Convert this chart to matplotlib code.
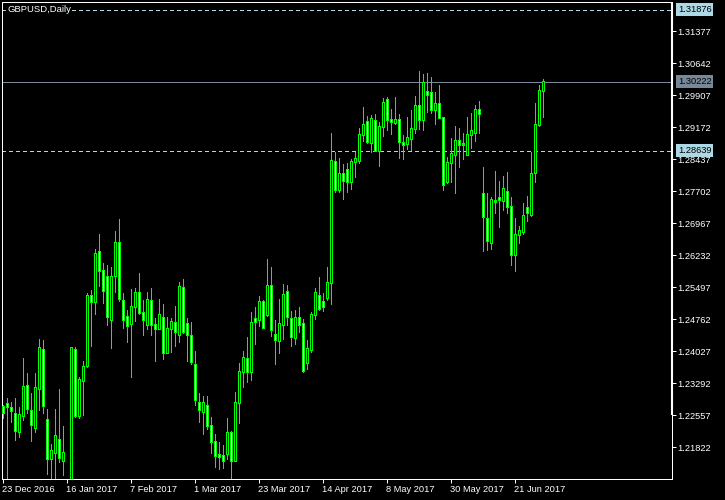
import numpy as np
import matplotlib
matplotlib.use('Agg')
import matplotlib.pyplot as plt

plt.rcParams['font.family'] = ['Liberation Sans', 'DejaVu Sans']

# GBPUSD daily, 23 Dec 2016 .. 30 Jun 2017 (one bar per weekday)
opens = [1.2275, 1.2282, 1.2274, 1.2260, 1.2218, 1.2256, 1.2325, 1.2266, 1.2228, 1.2318,
         1.2407, 1.2247, 1.2157, 1.2171, 1.2201, 1.2153, 1.2040, 1.2060, 1.2407, 1.2255,
         1.2335, 1.2370, 1.2531, 1.2517, 1.2632, 1.2589, 1.2575, 1.2476, 1.2576, 1.2653,
         1.2520, 1.2482, 1.2467, 1.2505, 1.2538, 1.2492, 1.2465, 1.2520, 1.2464, 1.2455,
         1.2481, 1.2400, 1.2456, 1.2468, 1.2442, 1.2550, 1.2467, 1.2439, 1.2373, 1.2286,
         1.2265, 1.2279, 1.2232, 1.2196, 1.2165, 1.2164, 1.2168, 1.2217, 1.2151, 1.2286,
         1.2356, 1.2387, 1.2356, 1.2477, 1.2475, 1.2516, 1.2487, 1.2553, 1.2442, 1.2427,
         1.2465, 1.2540, 1.2479, 1.2434, 1.2481, 1.2467, 1.2377, 1.2406, 1.2488, 1.2532,
         1.2516, 1.2526, 1.2560, 1.2838, 1.2775, 1.2812, 1.2821, 1.2792, 1.2838, 1.2842,
         1.2900, 1.2930, 1.2883, 1.2932, 1.2864, 1.2920, 1.2981, 1.2936, 1.2929, 1.2936,
         1.2883, 1.2880, 1.2892, 1.2915, 1.2968, 1.2934, 1.3000, 1.2998, 1.2958, 1.2972,
         1.2940, 1.2792, 1.2836, 1.2854, 1.2887, 1.2881, 1.2854, 1.2901, 1.2906, 1.2959,
         1.2766, 1.2708, 1.2652, 1.2750, 1.2755, 1.2749, 1.2770, 1.2736, 1.2625, 1.2671,
         1.2677, 1.2734, 1.2716, 1.2813, 1.2923, 1.3001]
highs = [1.2279, 1.2295, 1.2286, 1.2295, 1.2274, 1.2387, 1.2352, 1.2307, 1.2352, 1.2430,
         1.2429, 1.2270, 1.2189, 1.2270, 1.2315, 1.2230, 1.2085, 1.2413, 1.2413, 1.2344,
         1.2380, 1.2536, 1.2543, 1.2637, 1.2672, 1.2605, 1.2601, 1.2596, 1.2679, 1.2707,
         1.2537, 1.2498, 1.2546, 1.2547, 1.2583, 1.2520, 1.2539, 1.2547, 1.2479, 1.2523,
         1.2511, 1.2481, 1.2479, 1.2507, 1.2561, 1.2569, 1.2479, 1.2470, 1.2403, 1.2306,
         1.2300, 1.2300, 1.2251, 1.2213, 1.2194, 1.2187, 1.2249, 1.2219, 1.2309, 1.2376,
         1.2403, 1.2435, 1.2493, 1.2504, 1.2530, 1.2520, 1.2615, 1.2597, 1.2475, 1.2523,
         1.2557, 1.2554, 1.2495, 1.2498, 1.2504, 1.2477, 1.2429, 1.2494, 1.2548, 1.2573,
         1.2536, 1.2596, 1.2905, 1.2861, 1.2846, 1.2832, 1.2835, 1.2844, 1.2861, 1.2915,
         1.2964, 1.2943, 1.2945, 1.2948, 1.2930, 1.2985, 1.2986, 1.2959, 1.2986, 1.2947,
         1.2900, 1.2942, 1.2956, 1.2989, 1.3047, 1.3040, 1.3042, 1.3033, 1.2999, 1.3014,
         1.2942, 1.2850, 1.2892, 1.2920, 1.2915, 1.2903, 1.2941, 1.2950, 1.2968, 1.2978,
         1.2826, 1.2767, 1.2758, 1.2817, 1.2794, 1.2805, 1.2815, 1.2758, 1.2709, 1.2690,
         1.2743, 1.2759, 1.2861, 1.2973, 1.3014, 1.3027]
lows = [1.2249, 1.2090, 1.2240, 1.2199, 1.2207, 1.2245, 1.2262, 1.2197, 1.2218, 1.2268,
        1.2260, 1.2122, 1.2095, 1.2100, 1.2149, 1.2119, 1.1985, 1.2050, 1.2252, 1.2249,
        1.2256, 1.2367, 1.2415, 1.2488, 1.2553, 1.2513, 1.2463, 1.2411, 1.2540, 1.2519,
        1.2457, 1.2425, 1.2344, 1.2473, 1.2488, 1.2439, 1.2453, 1.2441, 1.2381, 1.2453,
        1.2385, 1.2399, 1.2400, 1.2415, 1.2425, 1.2445, 1.2381, 1.2374, 1.2279, 1.2241,
        1.2212, 1.2224, 1.2168, 1.2138, 1.2132, 1.2134, 1.2155, 1.2105, 1.2151, 1.2239,
        1.2321, 1.2333, 1.2337, 1.2419, 1.2461, 1.2456, 1.2484, 1.2438, 1.2374, 1.2399,
        1.2431, 1.2463, 1.2415, 1.2419, 1.2447, 1.2356, 1.2362, 1.2402, 1.2477, 1.2498,
        1.2495, 1.2520, 1.2511, 1.2768, 1.2769, 1.2753, 1.2769, 1.2775, 1.2804, 1.2836,
        1.2886, 1.2880, 1.2861, 1.2863, 1.2829, 1.2898, 1.2912, 1.2901, 1.2925, 1.2847,
        1.2844, 1.2867, 1.2864, 1.2903, 1.2913, 1.2911, 1.2953, 1.2951, 1.2925, 1.2938,
        1.2773, 1.2789, 1.2792, 1.2767, 1.2827, 1.2844, 1.2854, 1.2870, 1.2886, 1.2905,
        1.2633, 1.2635, 1.2638, 1.2721, 1.2689, 1.2727, 1.2721, 1.2602, 1.2586, 1.2652,
        1.2672, 1.2703, 1.2714, 1.2792, 1.2921, 1.2942]
closes = [1.2263, 1.2275, 1.2266, 1.2220, 1.2257, 1.2323, 1.2271, 1.2235, 1.2320, 1.2412,
          1.2279, 1.2157, 1.2174, 1.2210, 1.2159, 1.2171, 1.2055, 1.2412, 1.2255, 1.2338,
          1.2367, 1.2531, 1.2517, 1.2628, 1.2588, 1.2542, 1.2482, 1.2575, 1.2653, 1.2524,
          1.2476, 1.2462, 1.2505, 1.2538, 1.2492, 1.2476, 1.2521, 1.2465, 1.2456, 1.2488,
          1.2400, 1.2456, 1.2472, 1.2449, 1.2552, 1.2448, 1.2442, 1.2379, 1.2292, 1.2270,
          1.2286, 1.2233, 1.2196, 1.2164, 1.2161, 1.2152, 1.2217, 1.2153, 1.2286, 1.2357,
          1.2389, 1.2356, 1.2470, 1.2472, 1.2516, 1.2457, 1.2554, 1.2453, 1.2429, 1.2467,
          1.2534, 1.2482, 1.2436, 1.2481, 1.2465, 1.2358, 1.2410, 1.2488, 1.2537, 1.2501,
          1.2505, 1.2561, 1.2840, 1.2775, 1.2812, 1.2796, 1.2792, 1.2839, 1.2846, 1.2901,
          1.2924, 1.2884, 1.2938, 1.2864, 1.2920, 1.2975, 1.2936, 1.2930, 1.2936, 1.2885,
          1.2878, 1.2893, 1.2915, 1.2968, 1.2934, 1.3021, 1.2993, 1.2959, 1.2972, 1.2940,
          1.2786, 1.2837, 1.2856, 1.2888, 1.2877, 1.2877, 1.2901, 1.2911, 1.2959, 1.2948,
          1.2712, 1.2657, 1.2752, 1.2746, 1.2751, 1.2777, 1.2736, 1.2625, 1.2672, 1.2681,
          1.2715, 1.2721, 1.2812, 1.2924, 1.3002, 1.30222]

date_labels = ['23 Dec 2016', '16 Jan 2017', '7 Feb 2017', '1 Mar 2017', '23 Mar 2017',
               '14 Apr 2017', '8 May 2017', '30 May 2017', '21 Jun 2017']
price_ticks = [1.31377, 1.30642, 1.29907, 1.29172, 1.28437, 1.27702, 1.26967,
               1.26232, 1.25497, 1.24762, 1.24027, 1.23292, 1.22557, 1.21822]
dashed_levels = [1.31876, 1.28639]
bid = 1.30222

opens = np.array(opens)
closes = np.array(closes)
n = len(opens)
x = np.arange(n)
fills = np.where(closes >= opens, 'black', 'white')
green = '#00ff00'
px = 0.72

ylo, yhi = 1.21094, 1.3205
ppx = (yhi - ylo) / 477  # price per screen pixel

fig = plt.figure(figsize=(7.25, 5), dpi=100, facecolor='black')
ax = fig.add_axes([2/725, 21/500, 670/725, 477/500], facecolor='black')

for lv in dashed_levels:
    ax.axhline(lv, color='#add8e6', lw=px, ls=(0, (4, 3)), zorder=1, antialiased=False)
ax.axhline(bid, color='#778899', lw=px, zorder=1, antialiased=False)

# MT4 style candles: green wick, 3 px green body, black (up) / white (down) core
body_lo = np.minimum(opens, closes)
body_hi = np.maximum(opens, closes)
ax.vlines(x, lows, highs, color=green, lw=px, zorder=2,
          antialiased=False, capstyle='butt')
ax.vlines(x, body_lo - ppx / 2, body_hi + ppx / 2, color=green, lw=3 * px,
          zorder=3, antialiased=False, capstyle='butt')
core = body_hi - body_lo > ppx
ax.vlines(x[core], body_lo[core] + ppx / 2, body_hi[core] - ppx / 2,
          colors=fills[core], lw=px, zorder=4, antialiased=False, capstyle='butt')

ax.set_xlim(-0.125, 167.375)
ax.set_ylim(ylo, yhi)

for s in ax.spines.values():
    s.set_color('white')
    s.set_linewidth(px)
ax.plot([1, 1], [1.22557, yhi], transform=ax.get_yaxis_transform(),
        color='white', lw=1.5, clip_on=False, solid_capstyle='butt', zorder=5)

ax.yaxis.tick_right()
ax.set_yticks(price_ticks)
ax.set_yticklabels([f'{v:.5f}' for v in price_ticks])
ax.set_xticks(np.arange(len(date_labels)) * 16)
ax.set_xticklabels(date_labels)
for lab in ax.get_xticklabels():
    lab.set_horizontalalignment('left')
ax.tick_params(axis='both', colors='white', length=3, width=px, pad=1, labelsize=6.7)

for lv, fc in [(dashed_levels[0], '#add8e6'), (bid, '#778899'), (dashed_levels[1], '#add8e6')]:
    ax.annotate(f'{lv:.5f}', xy=(1, lv), xycoords=ax.get_yaxis_transform(),
                xytext=(6, 0), textcoords='offset pixels', ha='left', va='center',
                fontsize=6.7, color='black', annotation_clip=False, zorder=6,
                bbox=dict(boxstyle='square,pad=0.2', fc=fc, ec='none'))

ax.annotate('GBPUSD,Daily', xy=(0, 1), xycoords='axes fraction', xytext=(5, -8),
            textcoords='offset pixels', ha='left', va='center', fontsize=6.8,
            color='white', zorder=6,
            bbox=dict(boxstyle='square,pad=0.05', fc='black', ec='none'))

fig.savefig('out.png', dpi=100, facecolor='black')
